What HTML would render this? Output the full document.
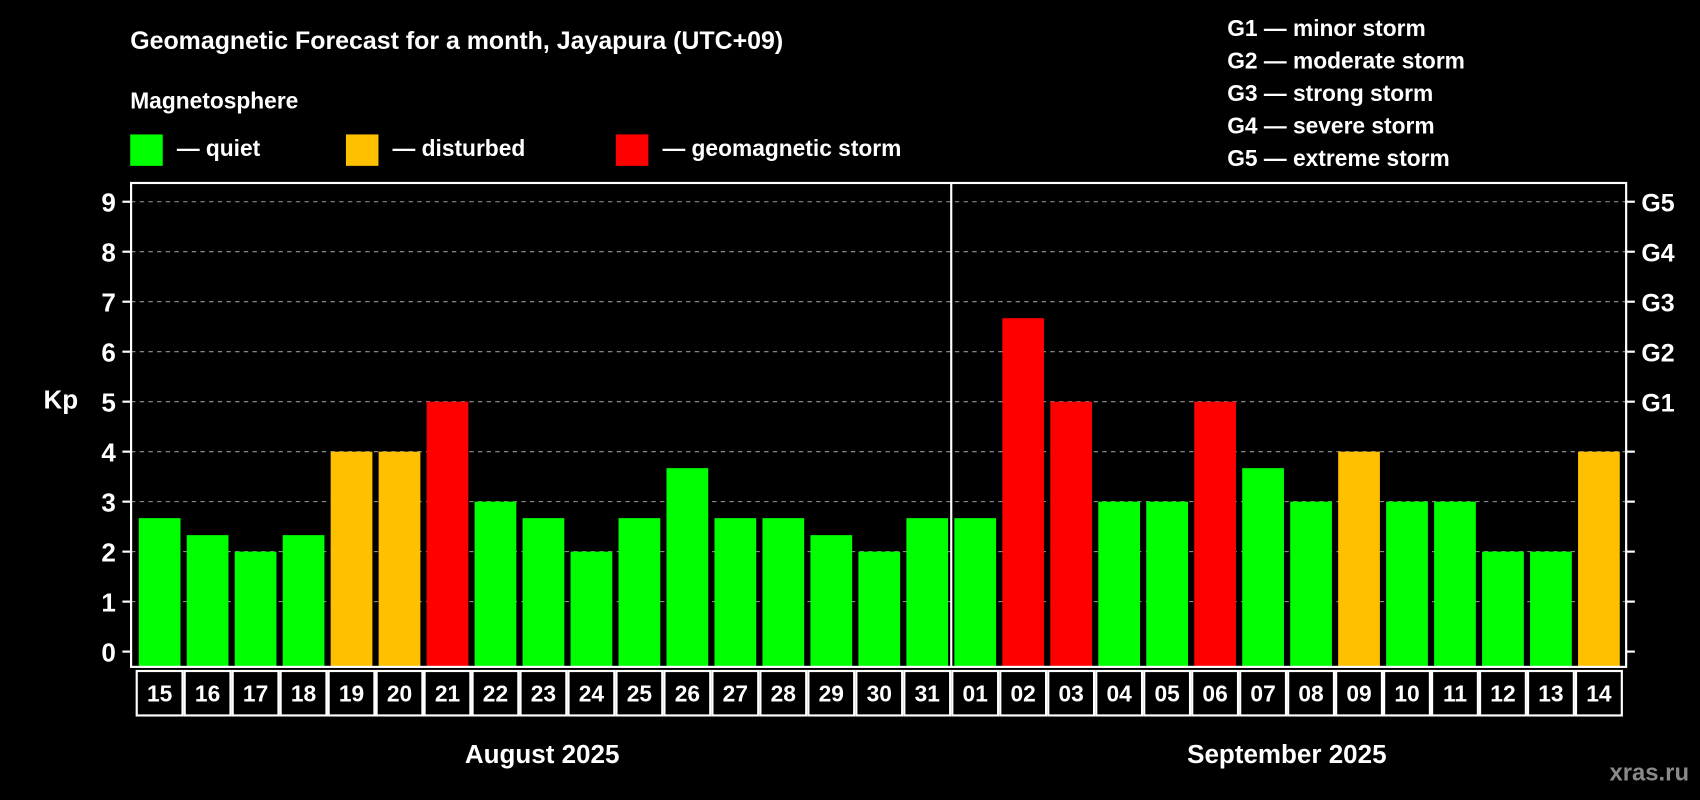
<!DOCTYPE html>
<html><head><meta charset="utf-8"><style>
html,body{margin:0;padding:0;background:#000;width:1700px;height:800px;overflow:hidden}
svg text{font-family:"Liberation Sans",Arial,sans-serif;font-weight:bold;fill:#fff}
</style></head><body>
<svg id="chart" width="1700" height="800" viewBox="0 0 1568 738" xmlns="http://www.w3.org/2000/svg">
<rect width="1568" height="738" fill="#000"/>
<text x="120" y="45" font-size="23">Geomagnetic Forecast for a month, Jayapura (UTC+09)</text>
<text x="120" y="100" font-size="21">Magnetosphere</text>
<g><rect x="120" y="124" width="30" height="29" fill="#00ff00"/><text x="163" y="144" font-size="21">— quiet</text></g>
<g><rect x="319" y="124" width="30" height="29" fill="#ffc000"/><text x="362" y="144" font-size="21">— disturbed</text></g>
<g><rect x="568" y="124" width="30" height="29" fill="#ff0000"/><text x="611" y="144" font-size="21">— geomagnetic storm</text></g>
<g font-size="21">
<text x="1132" y="33">G1 — minor storm</text>
<text x="1132" y="63">G2 — moderate storm</text>
<text x="1132" y="93">G3 — strong storm</text>
<text x="1132" y="123">G4 — severe storm</text>
<text x="1132" y="153">G5 — extreme storm</text>
</g>
<text x="40" y="377" font-size="24">Kp</text>
<g id="grid"></g><g id="bars"></g><g id="axes"></g><g id="xlabels"></g>
<text x="500" y="704" font-size="24" text-anchor="middle">August 2025</text>
<text x="1187" y="704" font-size="24" text-anchor="middle">September 2025</text>
<text x="1558" y="720" font-size="22" text-anchor="end" fill="#888" style="fill:#8a8a8a">xras.ru</text>
</svg>
<script>
const days=["15","16","17","18","19","20","21","22","23","24","25","26","27","28","29","30","31","01","02","03","04","05","06","07","08","09","10","11","12","13","14"];
const kpValues=[2.67,2.33,2,2.33,4,4,5,3,2.67,2,2.67,3.67,2.67,2.67,2.33,2,2.67,2.67,6.67,5,3,3,5,3.67,3,4,3,3,2,2,4];
const yTicks=[0,1,2,3,4,5,6,7,8,9];
const gLabels=["G1","G2","G3","G4","G5"];
const gLevels=[5,6,7,8,9];
const NS="http://www.w3.org/2000/svg";
const L=120.8,R=1500,T=168.8,B=615.2,y0=601.1,y9=186.1;
const slotL=125,slotW=(1497-125)/days.length,barW=38.5;
const yS=v=>y0-(y0-y9)*v/9;
const xS=i=>slotL+slotW*i+slotW/2;
function mk(tag,at,parent){const e=document.createElementNS(NS,tag);for(const k in at)e.setAttribute(k,at[k]);document.getElementById(parent).appendChild(e);return e;}
yTicks.forEach(t=>{const y=yS(t);
 if(t>0){const g=mk('line',{x1:L,x2:R,y1:y,y2:y,stroke:'#999','stroke-dasharray':'4,4','stroke-width':1},'grid');}
 const tk=mk('line',{x1:L-8,x2:L,y1:y,y2:y,stroke:'#fff','stroke-width':2},'axes');
 const tr=mk('line',{x1:R,x2:R+8,y1:y,y2:y,stroke:'#fff','stroke-width':2},'axes');
 const tx=mk('text',{x:L-14,y:y+9,'font-size':24,'text-anchor':'end'},'axes');tx.textContent=t;
});
gLevels.forEach((v,i)=>{const tx=mk('text',{x:R+14,y:yS(v)+9,'font-size':23},'axes');tx.textContent=gLabels[i];});
kpValues.forEach((v,i)=>{const c=v>=5?'#ff0000':(v>=4?'#ffc000':'#00ff00');
 const r=mk('rect',{x:xS(i)-barW/2,y:yS(v),width:barW,height:B-yS(v),fill:c},'bars');
 const cell=mk('rect',{x:slotL+slotW*i+1,y:619,width:slotW-2,height:41,fill:'none',stroke:'#fff','stroke-width':2},'xlabels');
 const tx=mk('text',{x:xS(i),y:647,'font-size':21,'text-anchor':'middle'},'xlabels');tx.textContent=days[i];
});
const fr=mk('rect',{x:L,y:T,width:R-L,height:B-T,fill:'none',stroke:'#fff','stroke-width':2},'axes');
const dv=mk('line',{x1:slotL+slotW*17,x2:slotL+slotW*17,y1:T,y2:B,stroke:'#fff','stroke-width':2},'axes');
</script>
</body></html>
